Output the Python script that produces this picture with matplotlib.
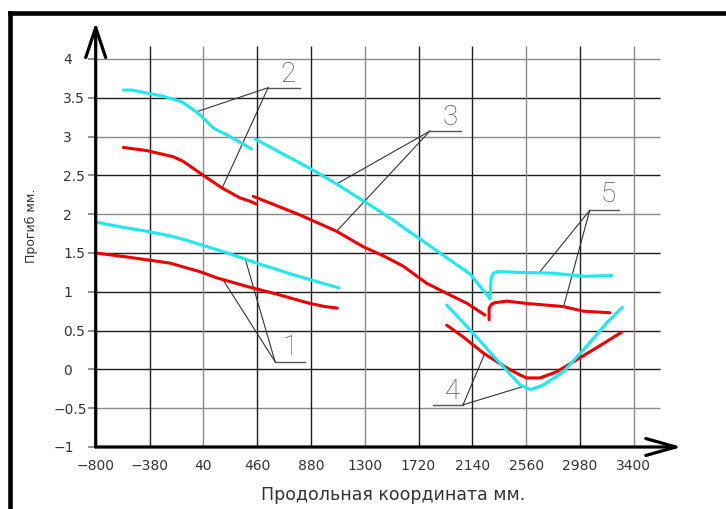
import matplotlib.pyplot as plt
from matplotlib.lines import Line2D
from matplotlib.transforms import ScaledTranslation

# axis ticks
x_ticks = [-800, -380, 40, 460, 880, 1300, 1720, 2140, 2560, 2980, 3400]
y_ticks = [-1, -0.5, 0, 0.5, 1, 1.5, 2, 2.5, 3, 3.5, 4]

# curves (x - mm along the part, y - deflection mm)
red1_x = [-800, -560, -390, -220, -116, 14, 145, 379, 613, 873, 990, 1086]
red1_y = [1.50, 1.45, 1.41, 1.37, 1.32, 1.26, 1.18, 1.07, 0.97, 0.85, 0.81, 0.79]
cyan1_x = [-800, -584, -400, -220, -100, 14, 249, 457, 743, 950, 1100]
cyan1_y = [1.90, 1.83, 1.78, 1.72, 1.67, 1.61, 1.49, 1.37, 1.22, 1.12, 1.05]

red2_x = [-584, -402, -194, -116, 14, 184, 327, 400, 457]
red2_y = [2.86, 2.82, 2.74, 2.68, 2.53, 2.34, 2.21, 2.17, 2.13]
cyan2_x = [-584, -519, -272, -129, -40, 14, 118, 249, 418]
cyan2_y = [3.60, 3.60, 3.52, 3.45, 3.35, 3.28, 3.11, 3.00, 2.84]

red3_x = [430, 795, 1081, 1289, 1450, 1601, 1784, 1940, 2100, 2239]
red3_y = [2.23, 1.99, 1.78, 1.58, 1.46, 1.33, 1.11, 0.98, 0.85, 0.70]
# cyan 3 runs on into cyan 5 through the hook near 2270
cyan35_x = [444, 873, 1081, 1300, 1445, 1706, 1888, 2122, 2265, 2278, 2282, 2288,
            2305, 2340, 2513, 2772, 3007, 3228]
cyan35_y = [2.97, 2.59, 2.39, 2.16, 2.01, 1.71, 1.50, 1.23, 0.94, 0.91, 1.05, 1.18,
            1.24, 1.26, 1.25, 1.24, 1.20, 1.21]

red4_x = [1940, 2068, 2226, 2409, 2510, 2565, 2669, 2799, 2981, 3150, 3306]
red4_y = [0.57, 0.42, 0.21, 0.02, -0.07, -0.11, -0.11, -0.03, 0.15, 0.32, 0.48]
cyan4_x = [1940, 2122, 2356, 2513, 2596, 2694, 2851, 3033, 3189, 3311]
cyan4_y = [0.83, 0.51, 0.08, -0.20, -0.26, -0.20, -0.03, 0.30, 0.60, 0.80]

red5_x = [2271, 2271, 2290, 2317, 2409, 2565, 2851, 3007, 3215]
red5_y = [0.64, 0.79, 0.84, 0.86, 0.88, 0.85, 0.81, 0.75, 0.73]

# callout numbers: text spot, shelf (x from, x to, y), leader targets on curves
call_text = ['1', '2', '3', '4', '5']
call_pos = [(717, 0.28), (701, 3.80), (1970, 3.24), (1982, -0.28), (3199, 2.25)]
call_shelf = [(600, 834, 0.10), (546, 795, 3.63), (1808, 2054, 3.07),
              (2068, 1833, -0.456), (3057, 3286, 2.05)]
call_targets = [[(196, 1.15), (366, 1.43)],
                [(-12, 3.32), (191, 2.35)],
                [(1081, 2.39), (1081, 1.78)],
                [(2239, 0.21), (2538, -0.22)],
                [(2669, 1.26), (2856, 0.83)]]

W, H = 726, 509
CYAN = '#1ee8f0'
RED = '#f00000'
GRAY = '#8a8a8a'
DARK = '#1e1e1e'

fig = plt.figure(figsize=(W / 100, H / 100), dpi=100)
ax = fig.add_axes([95.7 / W, 1 - 447 / H, 538 / W, 388 / H])
ax.set_xlim(-800, 3400)
ax.set_ylim(-1, 4)
ax.patch.set_visible(False)
for s in ax.spines.values():
    s.set_visible(False)

# grid, a mix of gray and black lines like the cad sheet
h_cols = [GRAY, DARK, DARK, DARK, DARK, GRAY, DARK, GRAY, DARK, GRAY]
v_cols = [DARK, GRAY, DARK, DARK, GRAY, DARK, DARK, GRAY, DARK, GRAY]
ax.hlines(y_ticks[1:], -800, 3605, colors=h_cols, lw=1.0, clip_on=False, zorder=1)
ax.vlines(x_ticks[1:], -1, 4.17, colors=v_cols, lw=1.0, clip_on=False, zorder=1)

# curves
for xs, ys, c in [(red1_x, red1_y, RED), (cyan1_x, cyan1_y, CYAN),
                  (red2_x, red2_y, RED), (cyan2_x, cyan2_y, CYAN),
                  (red3_x, red3_y, RED), (cyan35_x, cyan35_y, CYAN),
                  (red4_x, red4_y, RED), (cyan4_x, cyan4_y, CYAN),
                  (red5_x, red5_y, RED)]:
    ax.plot(xs, ys, color=c, lw=2.2, solid_capstyle='round', clip_on=False, zorder=3)

# callouts
for txt, pos, shelf, targets in zip(call_text, call_pos, call_shelf, call_targets):
    x0, x1, yy = shelf
    ax.plot([x0, x1], [yy, yy], color='#555555', lw=1.0, clip_on=False, zorder=2)
    for tx, ty in targets:
        ax.plot([x0, tx], [yy, ty], color='#333333', lw=0.8, clip_on=False, zorder=2)
    ax.text(pos[0], pos[1], txt, ha='center', va='center', fontsize=20,
            family='Roboto', fontweight='light', color='#555555')

# axes with open arrow heads
ax.annotate('', xy=(3775, -1), xytext=(-800, -1), annotation_clip=False,
            arrowprops=dict(arrowstyle='->,head_length=2.16,head_width=0.61',
                            lw=2.3, color='black', shrinkA=0, shrinkB=0,
                            mutation_scale=10), zorder=5)
ax.annotate('', xy=(-800, 4.47), xytext=(-800, -1), annotation_clip=False,
            arrowprops=dict(arrowstyle='->,head_length=2.16,head_width=0.72',
                            lw=2.3, color='black', shrinkA=0, shrinkB=0,
                            mutation_scale=10), zorder=5)

# tick labels
fmt = lambda v: ('%g' % v).replace('-', '\u2212')
ax.set_xticks(x_ticks)
ax.set_xticklabels([fmt(v) for v in x_ticks])
ax.set_yticks(y_ticks)
ax.set_yticklabels([fmt(v) for v in y_ticks])
ax.tick_params(axis='x', length=0, pad=9, labelsize=10, labelcolor='#333333')
ax.tick_params(axis='y', length=5.8, width=1.3, color=GRAY, pad=17.7,
               labelsize=10, labelcolor='#333333')
for lbl in ax.get_yticklabels():
    lbl.set_horizontalalignment('left')
    if lbl.get_text().startswith('\u2212'):
        lbl.set_transform(lbl.get_transform() +
                          ScaledTranslation(-10 / 100, 0, fig.dpi_scale_trans))

ax.set_xlabel('Продольная координата мм.', fontsize=12.5, color='#333333', va='center')
ax.xaxis.set_label_coords((393 - 95.7) / 538, -(495 - 447) / 388)
ax.set_ylabel('Прогиб мм.', fontsize=9, color='#333333', va='center', ha='center')
ax.yaxis.set_label_coords((31.5 - 95.7) / 538, (447 - 226) / 388)

# heavy drawing frame (left and top edges visible)
fig.add_artist(Line2D([9.7 / W, 9.7 / W], [0, 1 - 12.8 / H], transform=fig.transFigure,
                      color='black', lw=3.3, solid_capstyle='projecting'))
fig.add_artist(Line2D([9.7 / W, 1], [1 - 12.8 / H, 1 - 12.8 / H], transform=fig.transFigure,
                      color='black', lw=3.3, solid_capstyle='projecting'))

fig.savefig('out.png', dpi=100)
